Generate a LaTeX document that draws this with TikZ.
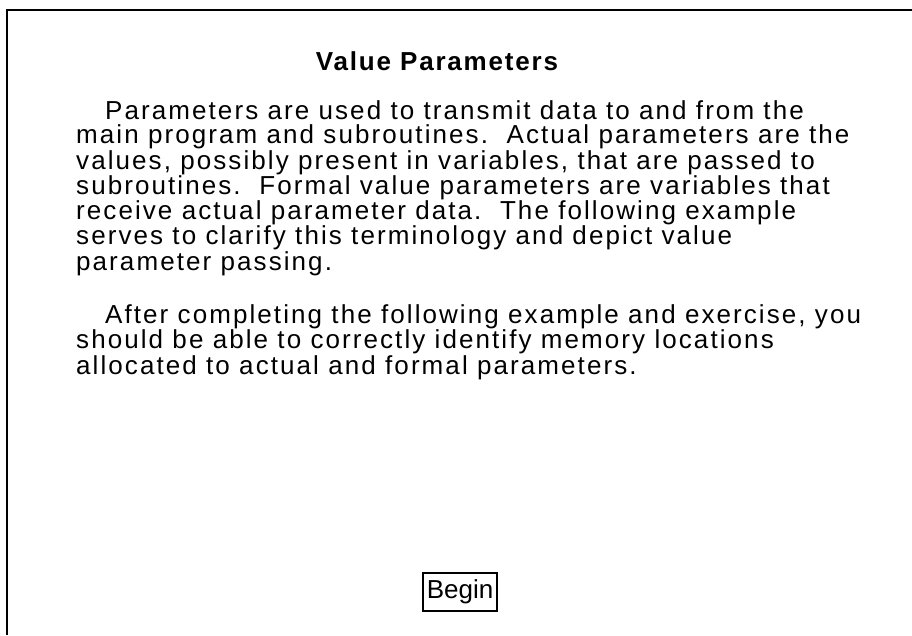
\documentclass[tikz,border=0pt]{standalone}
\usepackage{fontspec}
\setmainfont{Liberation Sans}
\usepackage{tikz}
\usetikzlibrary{positioning}
\tikzset{
  % Heading of the card
  heading/.style={
    anchor=base, inner sep=0pt,
    font=\fontsize{26}{24}\selectfont\bfseries\addfontfeature{LetterSpace=7}
  },
  % Body paragraph, lines broken by hand (anchored on its last line)
  para/.style={
    anchor=base west, inner sep=0pt, align=left,
    font=\fontsize{26}{24}\selectfont\addfontfeature{LetterSpace=8}
  },
  % Push button
  button/.style={
    rectangle, draw=black, line width=1.2pt,
    minimum width=74pt, minimum height=38pt, inner sep=0pt,
    font=\fontsize{26}{24}\selectfont
  },
  % Card frame
  frame/.style={line width=1.6pt, draw=black}
}
\begin{document}
\begin{tikzpicture}[x=1pt,y=-1pt]
  \useasboundingbox (0,0) rectangle (912,635);
  \fill[white] (0,0) rectangle (912,635);

  \draw[frame] (7,635) -- (7,10) -- (912,10);

  \node[heading] (title) at (437,70) {Value Parameters};

  \node[para] (intro) at (76,270) {\hspace*{29pt}Parameters are used to transmit data to and from the\\
    main program and subroutines.\ \ Actual parameters are the\\
    values, possibly present in variables, that are passed to\\
    subroutines.\ \ Formal value parameters are variables that\\
    receive actual parameter data.\ \ The following example\\
    serves to clarify this terminology and depict value\\
    parameter passing.};

  \node[para] (goal) at (76,374) {\hspace*{29pt}After completing the following example and exercise, you\\
    should be able to correctly identify memory locations\\
    allocated to actual and formal parameters.};

  \node[button] (begin) at (460,592) {Begin};
\end{tikzpicture}
\end{document}
